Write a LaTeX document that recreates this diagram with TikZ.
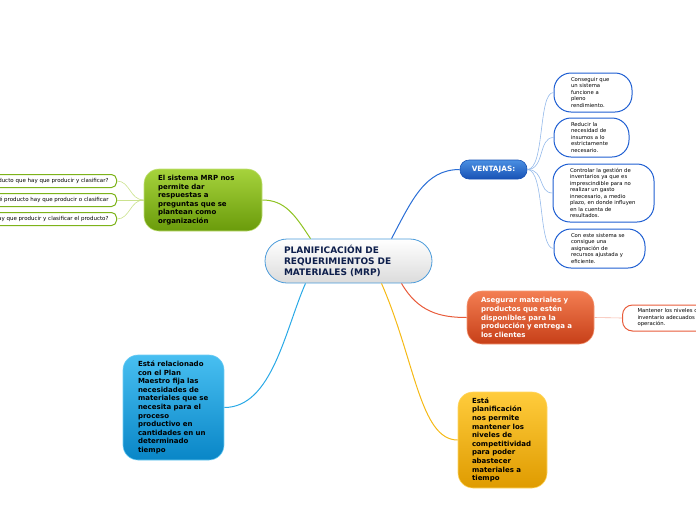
\documentclass[tikz,border=0pt]{standalone}
\usepackage{fontspec}
\setmainfont{DejaVu Sans}
\definecolor{navy}{HTML}{0E1F4C}
\definecolor{cborder}{HTML}{4B9BDA}
\definecolor{gtop}{HTML}{A6D33C}
\definecolor{gbot}{HTML}{6A9B0B}
\definecolor{gline}{HTML}{8DC21F}
\definecolor{glight}{HTML}{CBE28E}
\definecolor{gleaf}{HTML}{7DB31A}
\definecolor{vtop}{HTML}{4A8FE2}
\definecolor{vbot}{HTML}{1852B5}
\definecolor{vline}{HTML}{2A6ED6}
\definecolor{vlight}{HTML}{94B9EA}
\definecolor{vleaf}{HTML}{1F5FD2}
\definecolor{otop}{HTML}{F37E52}
\definecolor{obot}{HTML}{C73F18}
\definecolor{oline}{HTML}{E85B3A}
\definecolor{olight}{HTML}{F6B4A4}
\definecolor{ntop}{HTML}{48BFF1}
\definecolor{nbot}{HTML}{0986C7}
\definecolor{nline}{HTML}{2AA9E6}
\definecolor{ytop}{HTML}{FFCC3C}
\definecolor{ybot}{HTML}{DF9B00}
\definecolor{yline}{HTML}{F5B915}
\tikzset{
  mainbox/.style={rectangle, rounded corners=15pt, inner ysep=0pt, align=left,
    font=\bfseries\fontsize{7}{8.6}\selectfont},
  leafbox/.style={rectangle, draw, fill=white, line width=1pt, inner ysep=0pt, align=left,
    font=\fontsize{5.3}{6.5}\selectfont},
  conn/.style={line width=1pt},
  thin conn/.style={line width=0.6pt}
}
\begin{document}
\begin{tikzpicture}[x=1pt,y=-1pt]
\useasboundingbox (0,0) rectangle (696,520);

% central
\node[rectangle, rounded corners=22pt, draw=cborder, line width=0.8pt,
  top color=white, bottom color=black!14, text=navy, align=left,
  font=\bfseries\fontsize{9}{11}\selectfont,
  minimum width=167pt, minimum height=44pt, inner xsep=19pt, inner ysep=0pt, text width=129pt]
  (c) at (348.5,261) {PLANIFICACIÓN DE\\REQUERIMIENTOS DE\\MATERIALES (MRP)};

% green
\node[mainbox, top color=gtop, bottom color=gbot, draw=gtop!70!white, line width=0.6pt,
  minimum width=118pt, minimum height=62pt, inner xsep=14pt, text width=90pt]
  (g) at (203,200) {El sistema MRP nos\\permite dar\\respuestas a\\preguntas que se\\plantean como\\organización};
\node[leafbox, draw=gleaf, rounded corners=5pt, anchor=east, minimum height=13pt, inner xsep=8pt,
  font=\fontsize{5.5}{6.5}\selectfont]
  (gl1) at (117,181) {¿Cuál es el producto que hay que producir y clasificar?};
\node[leafbox, draw=gleaf, rounded corners=5pt, anchor=east, minimum height=13pt, inner xsep=8pt,
  font=\fontsize{5.5}{6.5}\selectfont]
  (gl2) at (117,200) {¿Cuánto de qué producto hay que producir o clasificar};
\node[leafbox, draw=gleaf, rounded corners=5pt, anchor=east, minimum height=13pt, inner xsep=8pt,
  font=\fontsize{5.5}{6.5}\selectfont]
  (gl3) at (117,219) {¿Cuándo hay que producir y clasificar el producto?};

% ventajas
\node[rectangle, rounded corners=9pt, top color=vtop, bottom color=vbot, draw=vbot, line width=0.6pt,
  text=white, font=\bfseries\fontsize{7.3}{8}\selectfont,
  minimum width=67pt, minimum height=19pt, inner sep=0pt]
  (v) at (493.5,169.5) {VENTAJAS:};
\node[leafbox, draw=vleaf, rounded corners=17pt, minimum width=78pt, minimum height=39pt,
  inner xsep=17pt, text width=44pt] (b1) at (593,92.5)
  {Conseguir que\\un sistema\\funcione a\\pleno\\rendimiento.};
\node[leafbox, draw=vleaf, rounded corners=17pt, minimum width=75pt, minimum height=39pt,
  inner xsep=17pt, text width=41pt] (b2) at (591.5,137.5)
  {Reducir la\\necesidad de\\insumos a lo\\estrictamente\\necesario.};
\node[leafbox, draw=vleaf, rounded corners=17pt, minimum width=101pt, minimum height=58pt,
  inner xsep=17pt, text width=67pt] (b3) at (603.5,193)
  {Controlar la gestión de\\inventarios ya que es\\imprescindible para no\\realizar un gasto\\innecesario, a medio\\plazo, en donde influyen\\en la cuenta de\\resultados.};
\node[leafbox, draw=vleaf, rounded corners=17pt, minimum width=91pt, minimum height=39pt,
  inner xsep=17pt, text width=57pt] (b4) at (599.5,248.5)
  {Con este sistema se\\consigue una\\asignación de\\recursos ajustada y\\eficiente.};

% orange
\node[mainbox, top color=otop, bottom color=obot, draw=otop!80!white, line width=0.6pt, text=white,
  font=\bfseries\fontsize{7}{8.6}\selectfont,
  minimum width=127pt, minimum height=53pt, inner xsep=14pt, text width=99pt]
  (o) at (530.5,317.5) {Asegurar materiales y\\productos que estén\\disponibles para la\\producción y entrega a\\los clientes};
\node[leafbox, draw=oline, rounded corners=10pt, anchor=west, minimum height=26pt,
  inner xsep=15pt, text width=85pt] (ol) at (622,318)
  {Mantener los niveles de\\inventario adecuados para la\\operación.};

% blue
\node[mainbox, top color=ntop, bottom color=nbot, draw=ntop!80!white, line width=0.6pt, text=black,
  minimum width=101pt, minimum height=105pt, inner xsep=15pt, text width=71pt]
  (n) at (173.5,407.5) {Está relacionado\\con el Plan\\Maestro fija las\\necesidades de\\materiales que se\\necesita para el\\proceso\\productivo en\\cantidades en un\\determinado\\tiempo};

% yellow
\node[mainbox, top color=ytop, bottom color=ybot, draw=ytop!80!white, line width=0.6pt, text=black,
  minimum width=89pt, minimum height=96pt, inner xsep=14pt, text width=61pt]
  (y) at (502.5,440) {Está\\planificación\\nos permite\\mantener los\\niveles de\\competitividad\\para poder\\abastecer\\materiales a\\tiempo};

% connectors
\draw[conn, gline] ([xshift=-38pt]c.north) .. controls (295,215) and (285,200) .. (g.east);
\draw[thin conn, glight] (g.west) .. controls (130,200) and (130,181) .. (gl1.east);
\draw[thin conn, glight] (g.west) -- (gl2.east);
\draw[thin conn, glight] (g.west) .. controls (130,200) and (130,219) .. (gl3.east);
\draw[conn, vline] ([xshift=43pt]c.north) .. controls (412,200) and (425,169.5) .. (v.west);
\draw[thin conn, vlight] (v.east) .. controls (545,169.5) and (538,92.5) .. (b1.west);
\draw[thin conn, vlight] (v.east) .. controls (545,169.5) and (538,137.5) .. (b2.west);
\draw[thin conn, vlight] (v.east) .. controls (545,169.5) and (538,193) .. (b3.west);
\draw[thin conn, vlight] (v.east) .. controls (545,169.5) and (538,248.5) .. (b4.west);
\draw[conn, oline] ([xshift=53pt]c.south) .. controls (418,312) and (440,317.5) .. (o.west);
\draw[thin conn, olight] (o.east) -- (ol.west);
\draw[conn, nline] ([xshift=-43pt]c.south) .. controls (285,330) and (272,407.5) .. (n.east);
\draw[conn, yline] ([xshift=33pt]c.south) .. controls (415,360) and (420,440) .. (y.west);
\end{tikzpicture}
\end{document}
